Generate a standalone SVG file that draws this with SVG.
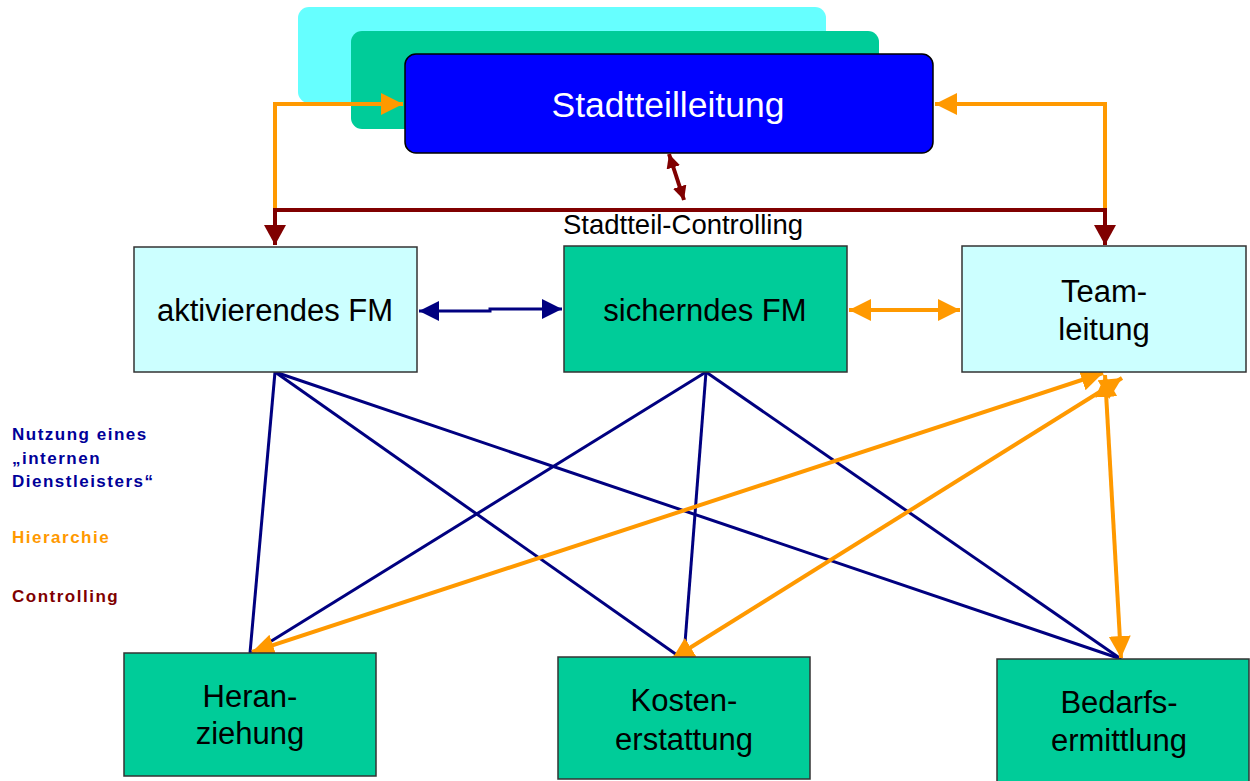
<svg xmlns="http://www.w3.org/2000/svg" width="1250" height="781" viewBox="0 0 1250 781">
  <style>
    .lbl { font-family: "Liberation Sans", Arial, sans-serif; fill: #000; text-anchor: middle; font-size: 31px; }
    .box { stroke: #333; stroke-width: 1.5; }
    .light { fill: #CCFFFF; }
    .green { fill: #00CC99; }
    .hier { stroke: #FF9900; stroke-width: 4; fill: none; }
    .ctrl { stroke: #800000; stroke-width: 4; fill: none; }
    .svc { stroke: #000080; stroke-width: 3; fill: none; }
    .legend { font-family: "Liberation Sans", Arial, sans-serif; font-weight: bold; font-size: 17px; letter-spacing: 1.5px; }
  </style>
  <defs>
    <marker id="headOrange" markerUnits="userSpaceOnUse" markerWidth="24" markerHeight="24" refX="22" refY="11" orient="auto-start-reverse">
      <path d="M0,0 L22,11 L0,22 z" fill="#FF9900"/>
    </marker>
    <marker id="headNavy" markerUnits="userSpaceOnUse" markerWidth="24" markerHeight="24" refX="20" refY="10" orient="auto-start-reverse">
      <path d="M0,0 L20,10 L0,20 z" fill="#000080"/>
    </marker>
    <marker id="headRed" markerUnits="userSpaceOnUse" markerWidth="24" markerHeight="24" refX="20" refY="11" orient="auto-start-reverse">
      <path d="M0,0 L20,11 L0,22 z" fill="#800000"/>
    </marker>
    <marker id="headRedSmall" markerUnits="userSpaceOnUse" markerWidth="16" markerHeight="16" refX="14" refY="7" orient="auto-start-reverse">
      <path d="M0,0 L14,7 L0,14 z" fill="#800000"/>
    </marker>
  </defs>

  <rect width="1250" height="781" fill="#fff"/>

  <!-- stacked management boxes -->
  <g id="stadtteilleitung">
    <rect x="298" y="7" width="528" height="96" rx="11" fill="#66FFFF"/>
    <rect x="351" y="31" width="528" height="98" rx="11" fill="#00CC99"/>
    <rect x="405" y="54" width="528" height="99" rx="11" fill="#0000FF" stroke="#000" stroke-width="1.5"/>
    <text x="668" y="117" class="lbl" style="fill:#fff;font-size:35.5px">Stadtteilleitung</text>
  </g>

  <g id="connectors">
    <!-- hierarchy from Stadtteilleitung to the side units -->
    <polyline class="hier" points="275,210 275,104 403,104" marker-end="url(#headOrange)"/>
    <polyline class="hier" points="1105,210 1105,104 935,104" marker-end="url(#headOrange)"/>
    <!-- controlling bus -->
    <polyline class="ctrl" points="275,245 275,210 1105,210 1105,245" marker-start="url(#headRed)" marker-end="url(#headRed)"/>
    <line class="ctrl" x1="669" y1="154" x2="684" y2="200" stroke-width="2.5" marker-start="url(#headRedSmall)" marker-end="url(#headRedSmall)"/>

    <!-- horizontal links in the middle row -->
    <polyline class="svc" points="419,311 490,311 490,309 562,309" marker-start="url(#headNavy)" marker-end="url(#headNavy)"/>
    <line class="hier" x1="849" y1="310" x2="960" y2="310" marker-start="url(#headOrange)" marker-end="url(#headOrange)"/>

    <!-- internal service provider links -->
    <line class="svc" x1="275" y1="372" x2="250" y2="653"/>
    <line class="svc" x1="275" y1="372" x2="677" y2="655"/>
    <line class="svc" x1="275" y1="372" x2="1121" y2="659"/>
    <line class="svc" x1="706" y1="372" x2="252" y2="653"/>
    <line class="svc" x1="706" y1="372" x2="684" y2="656"/>
    <line class="svc" x1="706" y1="372" x2="1121" y2="659"/>

    <!-- hierarchy from Teamleitung to the operative units -->
    <line class="hier" x1="252" y1="652" x2="1103" y2="373" marker-start="url(#headOrange)" marker-end="url(#headOrange)"/>
    <line class="hier" x1="672" y1="659" x2="1122" y2="378" marker-start="url(#headOrange)" marker-end="url(#headOrange)"/>
    <line class="hier" x1="1105" y1="375" x2="1121" y2="658" marker-start="url(#headOrange)" marker-end="url(#headOrange)"/>
  </g>

  <text x="683" y="234" style="font-family:'Liberation Sans',Arial,sans-serif;font-size:27.5px;text-anchor:middle">Stadtteil-Controlling</text>

  <!-- middle row -->
  <g id="aktivierendes-fm">
    <rect x="134" y="247" width="283" height="125" class="box light"/>
    <text x="275" y="321" class="lbl">aktivierendes FM</text>
  </g>
  <g id="sicherndes-fm">
    <rect x="564" y="246" width="283" height="126" class="box green"/>
    <text x="705" y="321" class="lbl">sicherndes FM</text>
  </g>
  <g id="teamleitung">
    <rect x="962" y="246" width="284" height="126" class="box light"/>
    <text x="1104" y="302" class="lbl">Team-</text>
    <text x="1104" y="340" class="lbl">leitung</text>
  </g>

  <!-- operative units -->
  <g id="heranziehung">
    <rect x="124" y="653" width="252" height="123" class="box green"/>
    <text x="250" y="707" class="lbl">Heran-</text>
    <text x="250" y="744" class="lbl">ziehung</text>
  </g>
  <g id="kostenerstattung">
    <rect x="558" y="657" width="252" height="122" class="box green"/>
    <text x="684" y="711" class="lbl">Kosten-</text>
    <text x="684" y="750" class="lbl">erstattung</text>
  </g>
  <g id="bedarfsermittlung">
    <rect x="997" y="659" width="252" height="130" class="box green"/>
    <text x="1119" y="713" class="lbl">Bedarfs-</text>
    <text x="1119" y="751" class="lbl">ermittlung</text>
  </g>

  <!-- legend -->
  <g id="legend">
    <text x="12" y="440" class="legend" fill="#000099">Nutzung eines</text>
    <text x="12" y="464" class="legend" fill="#000099">„internen</text>
    <text x="12" y="487" class="legend" fill="#000099">Dienstleisters“</text>
    <text x="12" y="543" class="legend" fill="#FF9900">Hierarchie</text>
    <text x="12" y="602" class="legend" fill="#800000">Controlling</text>
  </g>
</svg>
